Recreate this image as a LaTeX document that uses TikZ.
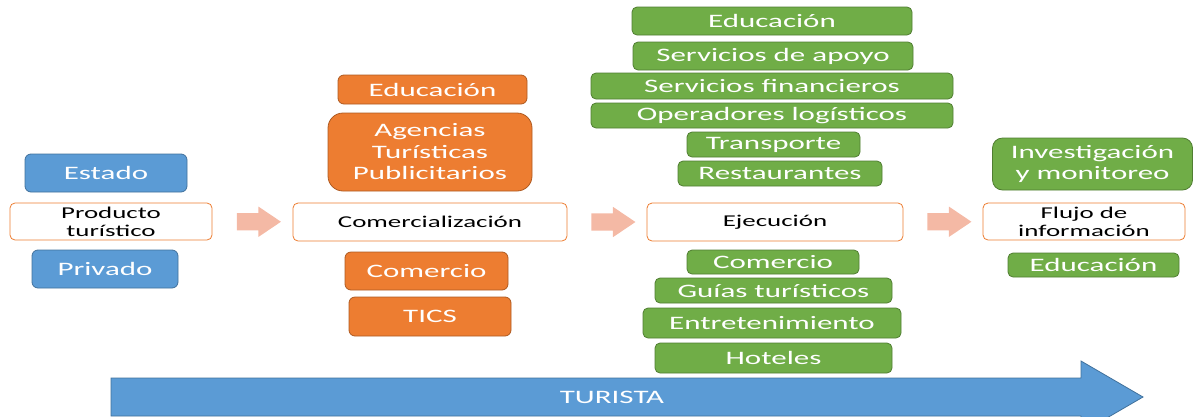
\documentclass[tikz,border=0pt]{standalone}
\usepackage{fontspec}
\setmainfont{Carlito}[FakeStretch=1.63]
\usetikzlibrary{shapes.arrows,positioning,calc}
\definecolor{boxblue}{HTML}{5B9BD5}
\definecolor{edgeblue}{HTML}{41719C}
\definecolor{boxorange}{HTML}{ED7D31}
\definecolor{edgeorange}{HTML}{AE5A21}
\definecolor{boxgreen}{HTML}{70AD47}
\definecolor{edgegreen}{HTML}{507E32}
\definecolor{arrowpink}{HTML}{F4B9A5}

\begin{document}
\begin{tikzpicture}[x=1pt, y=-1pt,
        wh/.style 2 args={minimum width=#1pt, minimum height=#2pt},
        actor/.style={rounded corners=6pt, text=white, align=center, inner sep=0pt,
            line width=0.8pt, font=\fontsize{19}{21.5}\selectfont},
        bluebox/.style={actor, fill=boxblue, draw=edgeblue},
        orangebox/.style={actor, fill=boxorange, draw=edgeorange},
        greenbox/.style={actor, rounded corners=5pt, fill=boxgreen, draw=edgegreen},
        stagebox/.style={rounded corners=5pt, draw=boxorange, fill=white, line width=0.8pt,
            align=center, inner sep=0pt, font=\fontsize{16.5}{18}\selectfont},
        stagearrow/.style={single arrow, fill=arrowpink, inner xsep=0pt, inner ysep=8.5pt,
            minimum height=44pt, single arrow head extend=6.5pt, single arrow tip angle=68}
    ]
        % Page frame
        \useasboundingbox (0, 0) rectangle (1195, 416);

        % Stages along the middle line
        \node [stagebox, wh={202}{37}] (producto) at (111, 221.5) {Producto\\turístico};
        \node [stagebox, wh={274}{38}] (comerc) at (430, 222) {Comercialización};
        \node [stagebox, wh={256}{38}] (ejecucion) at (775, 222) {Ejecución};
        \node [stagebox, wh={202}{37}] (flujo) at (1084, 221.5) {Flujo de\\información};

        % Block arrows between the stages
        \node [stagearrow] (arr1) at ($(producto.east)!0.5!(comerc.west)$) {};
        \node [stagearrow] (arr2) at ($(comerc.east)!0.5!(ejecucion.west)$) {};
        \node [stagearrow] (arr3) at ($(ejecucion.east)!0.5!(flujo.west)$) {};

        % Producto turistico
        \node [bluebox, wh={162}{38}] (estado) at (106, 173) {Estado};
        \node [bluebox, wh={146}{38}] (privado) at (105, 269) {Privado};

        % Comercializacion
        \node [orangebox, wh={189}{29}] (educA) at (432.5, 89.5) {Educación};
        \node [orangebox, wh={204}{78}, rounded corners=15pt] (agencias) at (430, 152)
            {Agencias\\Turísticas\\Publicitarios};
        \node [orangebox, wh={163}{38}] (comercioA) at (426.5, 271) {Comercio};
        \node [orangebox, wh={162}{39}] (tics) at (430, 316.5) {TICS};

        % Ejecucion, above
        \node [greenbox, wh={280}{28}] (educB) at (772, 21) {Educación};
        \node [greenbox, wh={280}{28}] (apoyo) at (773, 56) {Servicios de apoyo};
        \node [greenbox, wh={362}{26}] (financ) at (772, 86) {Servicios financieros};
        \node [greenbox, wh={362}{25}] (logist) at (772, 115.5) {Operadores logísticos};
        \node [greenbox, wh={173}{25}] (transp) at (773.5, 144.5) {Transporte};
        \node [greenbox, wh={204}{25}] (restaur) at (780, 173.5) {Restaurantes};
        % Ejecucion, below
        \node [greenbox, wh={172}{24}] (comercioB) at (773, 262) {Comercio};
        \node [greenbox, wh={237}{25}] (guias) at (773.5, 290.5) {Guías turísticos};
        \node [greenbox, wh={258}{30}] (entret) at (772, 323) {Entretenimiento};
        \node [greenbox, wh={237}{30}] (hoteles) at (773.5, 358) {Hoteles};

        % Flujo de informacion
        \node [greenbox, wh={200}{52}, rounded corners=10pt] (investig) at (1092.5, 164)
            {Investigación\\y monitoreo};
        \node [greenbox, wh={171}{24}] (educC) at (1093.5, 265) {Educación};

        % Tourist arrow at the bottom
        \coordinate (T1) at (111, 378);
        \coordinate (T2) at (1081, 378);
        \coordinate (T3) at (1081, 361);
        \coordinate (T4) at (1143, 397);
        \draw [fill=boxblue, draw=edgeblue, line width=0.8pt]
            (T1) -- (T2) -- (T3) -- (T4) -- (1081, 433) -- (1081, 416) -- (111, 416) -- cycle;
        \node [text=white, font=\fontsize{19}{21}\selectfont] (turista) at (612, 397) {TURISTA};
\end{tikzpicture}
\end{document}
